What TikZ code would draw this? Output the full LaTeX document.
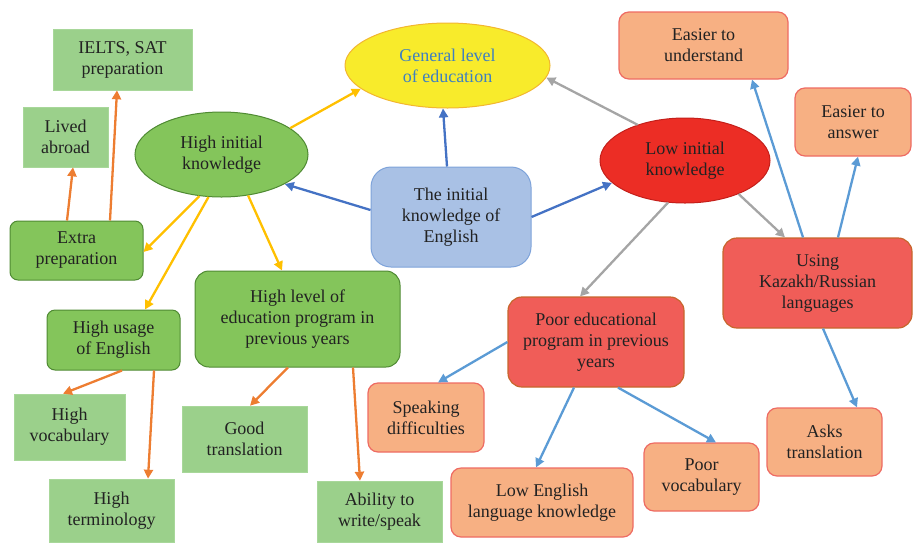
\documentclass[tikz,border=0pt]{standalone}
\usepackage{fontspec}
\setmainfont{Liberation Serif}
\usetikzlibrary{arrows.meta,shapes.geometric}
\definecolor{lgreen}{HTML}{9BD08B}
\definecolor{lgreenb}{HTML}{A8D79A}
\definecolor{mgreen}{HTML}{84C55B}
\definecolor{dgreen}{HTML}{4F8A33}
\definecolor{lorange}{HTML}{F7B083}
\definecolor{lorangeb}{HTML}{EE6B63}
\definecolor{mred}{HTML}{F05D58}
\definecolor{mredb}{HTML}{C7662C}
\definecolor{bred}{HTML}{EC2D25}
\definecolor{bredb}{HTML}{C41F1A}
\definecolor{yel}{HTML}{F8EB2B}
\definecolor{yelb}{HTML}{F2B630}
\definecolor{lblue}{HTML}{A9C1E5}
\definecolor{lblueb}{HTML}{7EA3DA}
\definecolor{gtext}{HTML}{3E7FC1}
\definecolor{txt}{HTML}{222222}
\definecolor{eblue}{HTML}{4472C4}
\definecolor{eyel}{HTML}{FFC000}
\definecolor{eorange}{HTML}{ED7D31}
\definecolor{egray}{HTML}{A5A5A5}
\definecolor{elblue}{HTML}{5B9BD5}
\tikzset{
  base/.style={align=center, inner sep=0pt, text=txt, font=\fontsize{18}{21}\selectfont},
  lgbox/.style={base, rectangle, fill=lgreen, draw=lgreenb, line width=0.6pt},
  gbox/.style={base, rectangle, rounded corners=8pt, fill=mgreen, draw=dgreen, line width=1pt},
  obox/.style={base, rectangle, rounded corners=10pt, fill=lorange, draw=lorangeb, line width=1.2pt},
  rbox/.style={base, rectangle, rounded corners=14pt, fill=mred, draw=mredb, line width=1.2pt},
  ell/.style={base, ellipse, inner sep=0pt},
  conn/.style={line width=2.3pt, -{Triangle[length=9pt,width=9pt]}},
}
\begin{document}
\begin{tikzpicture}[x=1pt,y=-1pt]
\useasboundingbox (0,0) rectangle (913,542);
% nodes
\node[lgbox, minimum width=139pt, minimum height=61pt] (ielts) at (122.5,59.5) {IELTS, SAT\\preparation};
\node[lgbox, minimum width=85pt, minimum height=60pt] (lived) at (65.5,137) {Lived\\abroad};
\node[ell, fill=mgreen, draw=dgreen, line width=1pt, minimum width=173pt, minimum height=85pt] (hik) at (221.5,154.5) {High initial\\knowledge};
\node[gbox, minimum width=133pt, minimum height=59pt] (extra) at (76.5,250.5) {Extra\\preparation};
\node[ell, fill=yel, draw=yelb, line width=1pt, minimum width=205pt, minimum height=85pt, text=gtext] (gen) at (447.5,65.5) {General level\\of education};
\node[base, rectangle, rounded corners=20pt, fill=lblue, draw=lblueb, line width=1pt, minimum width=160pt, minimum height=100pt] (init) at (451,217) {The initial\\knowledge of\\English};
\node[ell, fill=bred, draw=bredb, line width=1pt, minimum width=170pt, minimum height=85pt] (low) at (685,160.5) {Low initial\\knowledge};
\node[obox, minimum width=169pt, minimum height=67pt] (easyund) at (703.5,45.5) {Easier to\\understand};
\node[obox, minimum width=116pt, minimum height=68pt] (easyans) at (853,122) {Easier to\\answer};
\node[rbox, minimum width=189pt, minimum height=90pt] (using) at (817.5,283) {Using\\Kazakh/Russian\\languages};
\node[gbox, minimum width=133pt, minimum height=60pt] (usage) at (113.5,340) {High usage\\of English};
\node[gbox, rounded corners=14pt, minimum width=205pt, minimum height=96pt] (hlevel) at (297.5,319) {High level of\\education program in\\previous years};
\node[lgbox, minimum width=111pt, minimum height=66pt] (hvocab) at (69.5,427) {High\\vocabulary};
\node[lgbox, minimum width=125pt, minimum height=63pt] (hterm) at (111.5,510.5) {High\\terminology};
\node[lgbox, minimum width=125pt, minimum height=66pt] (goodtr) at (244.5,439) {Good\\translation};
\node[lgbox, minimum width=125pt, minimum height=61pt] (ability) at (379.5,511.5) {Ability to\\write/speak};
\node[rbox, minimum width=176pt, minimum height=90pt] (pooredu) at (596,342) {Poor educational\\program in previous\\years};
\node[obox, minimum width=116pt, minimum height=69pt] (speak) at (426,417.5) {Speaking\\difficulties};
\node[obox, minimum width=182pt, minimum height=69pt] (loweng) at (542,502.5) {Low English\\language knowledge};
\node[obox, minimum width=115pt, minimum height=68pt] (poorvoc) at (701.5,477) {Poor\\vocabulary};
\node[obox, minimum width=115pt, minimum height=68pt] (asks) at (824.5,442) {Asks\\translation};
% connectors
\draw[conn, eblue] ([yshift=7pt]init.west) -- (hik.-25);
\draw[conn, eblue] ([xshift=-4pt]init.north) -- (gen.-96);
\draw[conn, eblue] (init.east) -- (low.-163);
\draw[conn, eyel] (hik.21) -- (gen.-165);
\draw[conn, egray] (low.143) -- (gen.-7);
\draw[conn, eyel] (hik.-118) -- ([yshift=-1.5pt]extra.east);
\draw[conn, eyel] (hik.-107) -- ([xshift=31.5pt]usage.north);
\draw[conn, eyel] (hik.-57) -- ([xshift=-15.5pt]hlevel.north);
\draw[conn, eorange] ([xshift=-9.5pt]extra.north) -- ([xshift=7.5pt]lived.south);
\draw[conn, eorange] ([xshift=33.5pt]extra.north) -- ([xshift=-5.5pt]ielts.south);
\draw[conn, eorange] ([xshift=8.5pt]usage.south) -- ([xshift=-6.5pt]hvocab.north);
\draw[conn, eorange] ([xshift=40.5pt]usage.south) -- ([xshift=36.5pt]hterm.north);
\draw[conn, eorange] ([xshift=-9.5pt]hlevel.south) -- ([xshift=5.5pt]goodtr.north);
\draw[conn, eorange] ([xshift=55.5pt]hlevel.south) -- ([xshift=-19.5pt]ability.north);
\draw[conn, egray] (low.-112) -- ([xshift=-16pt]pooredu.north);
\draw[conn, egray] (low.-32) -- ([xshift=-32.5pt]using.north);
\draw[conn, elblue] ([xshift=-14.5pt]using.north) -- ([xshift=48.5pt]easyund.south);
\draw[conn, elblue] ([xshift=20.5pt]using.north) -- ([xshift=5pt]easyans.south);
\draw[conn, elblue] ([xshift=5.5pt]using.south) -- ([xshift=32.5pt]asks.north);
\draw[conn, elblue] (pooredu.west) -- ([xshift=12pt]speak.north);
\draw[conn, elblue] ([xshift=-22pt]pooredu.south) -- ([xshift=-6pt]loweng.north);
\draw[conn, elblue] ([xshift=22pt]pooredu.south) -- ([xshift=14.5pt]poorvoc.north);
\end{tikzpicture}
\end{document}
